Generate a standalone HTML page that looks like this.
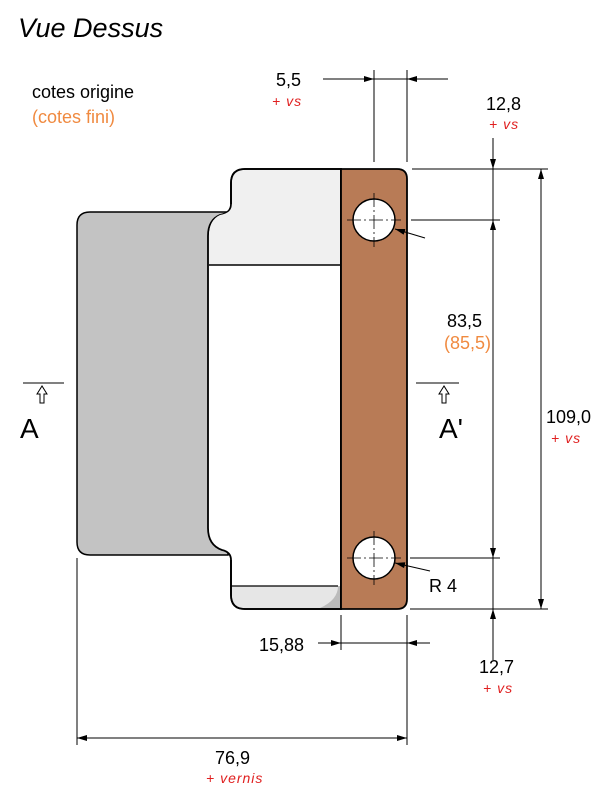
<!DOCTYPE html>
<html><head><meta charset="utf-8"><style>
html,body{margin:0;padding:0;background:#fff;width:600px;height:800px;overflow:hidden}
svg{display:block}
text{font-family:"Liberation Sans",sans-serif}
</style></head><body>
<svg width="600" height="800" viewBox="0 0 600 800" xmlns="http://www.w3.org/2000/svg">
<defs>
<marker id="ar" viewBox="0 0 10 6" refX="10" refY="3" markerWidth="10" markerHeight="6" orient="auto" markerUnits="userSpaceOnUse"><path d="M0,0 L10,3 L0,6 z" fill="#000"/></marker>
</defs>
<text x="18" y="37" font-size="27" font-style="italic">Vue Dessus</text>
<text x="32" y="98" font-size="18">cotes origine</text>
<text x="32" y="123" font-size="18" fill="#f08a40">(cotes fini)</text>

<path d="M90,212 H228 V555 H90 Q77,555 77,542 V225 Q77,212 90,212 Z" fill="#c3c3c3" stroke="#000" stroke-width="1.5"/>
<path d="M245,169 H341 V609 H245 Q231,609 231,595 V560 Q231,552 222,550 Q208,545 208,528 V236 Q208,220 220,215 Q231,213 231,204 V183 Q231,169 245,169 Z" fill="#fff" stroke="#000" stroke-width="1.8"/>
<path d="M245,170 H340 V265 H209 V236 Q209,220 220,215 Q232,213 232,204 V183 Q232,170 245,170 Z" fill="#f0f0f0"/>
<line x1="209" y1="265" x2="341" y2="265" stroke="#000" stroke-width="1.5"/>
<path d="M232,586 H340 V608 H245 Q232,608 232,595 Z" fill="#e6e6e6"/>
<path d="M320,608 Q338,600 338,586 H340 V608 Z" fill="#bbb"/>
<line x1="231" y1="586" x2="338" y2="586" stroke="#000" stroke-width="1.2"/>
<path d="M245,609 H341 V169 H245 Q231,169 231,183 V204 M231,560 V595 Q231,609 245,609" fill="none" stroke="#000" stroke-width="1.8"/>
<path d="M341,169 H397 Q407,169 407,179 V599 Q407,609 397,609 H341 Z" fill="#b87b56" stroke="#000" stroke-width="1.8"/>
<circle cx="374" cy="220" r="21" fill="#fff" stroke="#000" stroke-width="1.5"/>
<circle cx="374" cy="558" r="21" fill="#fff" stroke="#000" stroke-width="1.5"/>
<g stroke="#000" stroke-width="0.8">
<line x1="347" y1="220" x2="401" y2="220" stroke-dasharray="14,3,2,3"/>
<line x1="374" y1="193" x2="374" y2="247" stroke-dasharray="14,3,2,3"/>
<line x1="347" y1="558" x2="401" y2="558" stroke-dasharray="14,3,2,3"/>
<line x1="374" y1="531" x2="374" y2="585" stroke-dasharray="14,3,2,3"/>
</g>
<g stroke="#000" stroke-width="1" fill="none">
<line x1="374" y1="70" x2="374" y2="162"/>
<line x1="407" y1="70" x2="407" y2="162"/>
<line x1="374" y1="79" x2="407" y2="79"/>
<line x1="323" y1="79" x2="374" y2="79" marker-end="url(#ar)"/>
<line x1="448" y1="79" x2="407" y2="79" marker-end="url(#ar)"/>
<line x1="412" y1="169" x2="548" y2="169"/>
<line x1="411" y1="220" x2="500" y2="220"/>
<line x1="410" y1="558" x2="500" y2="558"/>
<line x1="410" y1="609" x2="548" y2="609"/>
<line x1="493" y1="138" x2="493" y2="169" marker-end="url(#ar)"/>
<line x1="493" y1="169" x2="493" y2="220"/>
<line x1="493" y1="300" x2="493" y2="220" marker-end="url(#ar)"/>
<line x1="493" y1="300" x2="493" y2="558" marker-end="url(#ar)"/>
<line x1="493" y1="558" x2="493" y2="609"/>
<line x1="493" y1="660" x2="493" y2="609" marker-end="url(#ar)"/>
<line x1="541" y1="400" x2="541" y2="169" marker-end="url(#ar)"/>
<line x1="541" y1="400" x2="541" y2="609" marker-end="url(#ar)"/>
<line x1="425" y1="238" x2="395" y2="229" marker-end="url(#ar)"/>
<line x1="430" y1="571" x2="395" y2="563" marker-end="url(#ar)"/>
<line x1="341" y1="615" x2="341" y2="650"/>
<line x1="407" y1="615" x2="407" y2="745"/>
<line x1="341" y1="643" x2="407" y2="643"/>
<line x1="318" y1="643" x2="341" y2="643" marker-end="url(#ar)"/>
<line x1="430" y1="643" x2="407" y2="643" marker-end="url(#ar)"/>
<line x1="77" y1="558" x2="77" y2="745"/>
<line x1="240" y1="738" x2="77" y2="738" marker-end="url(#ar)"/>
<line x1="240" y1="738" x2="407" y2="738" marker-end="url(#ar)"/>
<line x1="23" y1="383" x2="64" y2="383"/>
<line x1="416" y1="383" x2="459" y2="383"/>
<path d="M42,386 L37,394 H40 V403 H44 V394 H47 Z" fill="#fff"/>
<path d="M444,386 L439,394 H442 V403 H446 V394 H449 Z" fill="#fff"/>
</g>
<g font-size="18">
<text x="276" y="86">5,5</text>
<text x="486" y="110">12,8</text>
<text x="447" y="327">83,5</text>
<text x="546" y="423">109,0</text>
<text x="429" y="592">R 4</text>
<text x="259" y="651">15,88</text>
<text x="479" y="673">12,7</text>
<text x="215" y="764">76,9</text>
</g>
<text x="444" y="349" font-size="18" fill="#f08a40">(85,5)</text>
<g font-size="14" font-style="italic" fill="#e02020" letter-spacing="1">
<text x="272" y="106">+ vs</text>
<text x="489" y="129">+ vs</text>
<text x="551" y="443">+ vs</text>
<text x="483" y="693">+ vs</text>
<text x="206" y="783">+ vernis</text>
</g>
<text x="20" y="438" font-size="28">A</text>
<text x="439" y="438" font-size="28">A'</text>
</svg>
</body></html>
